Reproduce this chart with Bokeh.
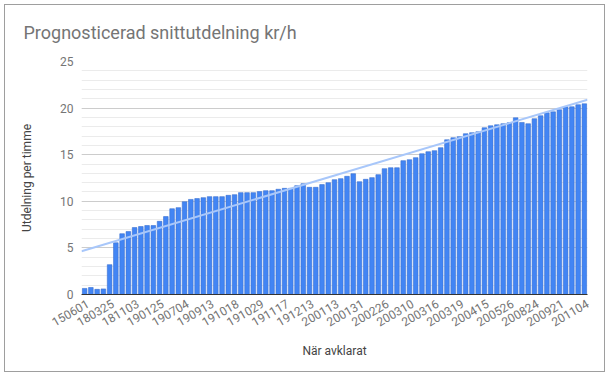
from bokeh.plotting import figure
from bokeh.models import Range1d, FixedTicker, SingleIntervalTicker
from bokeh.embed import file_html
from bokeh.resources import INLINE
import math

# tick labels (every 4th bar is labelled)
tick_labels = ["150601", "180325", "181103", "190125", "190704", "190913", "191018",
               "191029", "191117", "191213", "200113", "200131", "200226", "200310",
               "200316", "200319", "200415", "200526", "200824", "200921", "201104"]
label_step = 4

# bar values (kr/h)
values = [0.65, 0.75, 0.55, 0.6, 3.2, 5.55, 6.52, 6.75, 7.18, 7.29,
          7.4, 7.4, 7.85, 8.36, 9.2, 9.32, 9.95, 10.2, 10.29, 10.39,
          10.5, 10.5, 10.5, 10.64, 10.71, 10.93, 10.93, 10.93, 11.04, 11.14,
          11.14, 11.29, 11.39, 11.39, 11.68, 11.89, 11.5, 11.5, 11.79, 12.0,
          12.32, 12.43, 12.68, 12.96, 12.1, 12.36, 12.54, 12.86, 13.5, 13.6,
          13.6, 14.36, 14.46, 14.68, 15.1, 15.32, 15.43, 15.75, 16.6, 16.82,
          16.93, 17.25, 17.36, 17.46, 17.89, 18.1, 18.21, 18.32, 18.43, 18.96,
          18.46, 18.32, 18.86, 19.18, 19.5, 19.6, 19.82, 20.14, 20.14, 20.36,
          20.46]

# linear trendline values at the left and right edge of the plot
trend_values = [4.64, 20.9]

idx = list(range(len(values)))
n = len(values)

p = figure(width=601, height=368, output_backend="svg", toolbar_location=None,
           x_range=Range1d(-0.5, n - 0.5), y_range=Range1d(0, 25),
           min_border_left=76, min_border_right=19, min_border_top=56,
           min_border_bottom=79)
p.styles = {"border": "1px solid #9e9e9e", "margin": "4px"}
# label range: shifted half a bar so the rotated labels end just right of their bar
p.extra_x_ranges = {"lab": Range1d(-1, n - 1)}

p.title.text = "Prognosticerad snittutdelning kr/h"
p.title.text_font = "Roboto"
p.title.text_font_size = "18px"
p.title.text_font_style = "normal"
p.title.text_color = "#757575"
p.title.align = "left"
p.title.vertical_align = "top"
p.title.offset = -58
p.title.standoff = 33

p.vbar(x=idx, top=values, width=0.74, fill_color="#4285f4", line_color="#3a70d0",
       line_width=0.6)

tx = [-0.5, n - 0.5]
p.line(tx, trend_values, line_color="#a8c7fa", line_width=2)

# axes
xa = p.xaxis[0]
xa.x_range_name = "lab"
xa.ticker = FixedTicker(ticks=[i * label_step for i in range(len(tick_labels))])
xa.major_label_overrides = {i * label_step: lab for i, lab in enumerate(tick_labels)}
xa.major_label_orientation = math.pi / 6
xa.major_tick_line_color = None
xa.minor_tick_line_color = None
xa.major_tick_out = 0
xa.major_label_standoff = 8
xa.axis_line_color = "#333333"
xa.major_label_text_font = "Roboto"
xa.major_label_text_font_size = "12px"
xa.major_label_text_color = "#757575"
xa.axis_label = "När avklarat"
xa.axis_label_text_font = "Roboto"
xa.axis_label_text_font_size = "12px"
xa.axis_label_text_font_style = "normal"
xa.axis_label_text_color = "#444444"
xa.axis_label_standoff = 10

p.yaxis.ticker = SingleIntervalTicker(interval=5, num_minor_ticks=5)
p.yaxis.axis_line_color = None
p.yaxis.major_tick_line_color = None
p.yaxis.minor_tick_line_color = None
p.yaxis.major_tick_out = 0
p.yaxis.major_label_standoff = 4
p.yaxis.major_label_text_font = "Roboto"
p.yaxis.major_label_text_font_size = "12px"
p.yaxis.major_label_text_color = "#757575"
p.yaxis.axis_label = "Utdelning per timme"
p.yaxis.axis_label_text_font = "Roboto"
p.yaxis.axis_label_text_font_size = "12px"
p.yaxis.axis_label_text_font_style = "normal"
p.yaxis.axis_label_text_color = "#444444"
p.yaxis.axis_label_standoff = 23

p.xgrid.grid_line_color = None
p.ygrid.grid_line_color = "#cccccc"
p.ygrid.minor_grid_line_color = "#ebebeb"
p.outline_line_color = None

open("out.html", "w").write(file_html(p, INLINE))
